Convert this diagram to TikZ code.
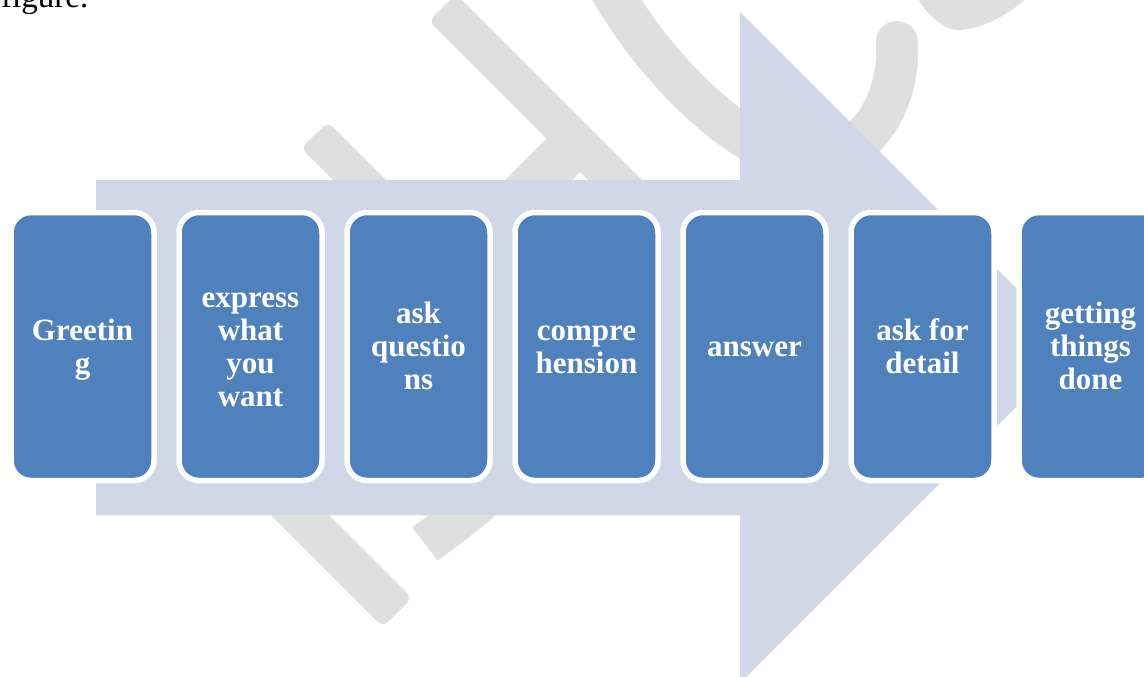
\documentclass[tikz,border=0pt]{standalone}
\usepackage{fontspec}
\setmainfont{Liberation Serif}
\usetikzlibrary{shapes}
\usetikzlibrary{arrows}
\usetikzlibrary{positioning}

\definecolor{boxblue}{HTML}{4F81BD}
\definecolor{arrowblue}{HTML}{D0D8E8}
\definecolor{markgray}{HTML}{DFDFDF}
\newcommand{\haut}{\rule{0pt}{27.6pt}}
\newcommand{\bas}{\rule[-6.7pt]{0pt}{6.7pt}}

\begin{document}
\begin{tikzpicture}[x=1pt,y=-1pt]
\tikzstyle{etape}=[
        rectangle,
        draw=white,
        line width=5.5pt,
        rounded corners=20pt,
        fill=boxblue,
        text=white,
        align=center,
        inner sep=0pt,
        minimum width=143pt,
        minimum height=268pt,
        font=\fontsize{31}{33}\selectfont\bfseries
]
\tikzstyle{trait}=[draw=markgray,line width=42pt]
\tikzstyle{tache}=[fill=markgray,rounded corners=7pt]
\useasboundingbox (0,0) rectangle (1144,677);
\clip (0,0) rectangle (1144,677);
%textedelapage
\node[anchor=base west,inner sep=0pt,font=\fontsize{33}{36}\selectfont] (figtext) at (1,8) {figure.};
%filigrane
\fill[tache] (301,148) -- (328,122) -- (528,322) -- (501,348) -- cycle;
\fill[tache] (383,627) -- (412,598) -- (212,398) -- (183,427) -- cycle;
\fill[tache] (429,21) -- (456,-6) -- (706,244) -- (679,271) -- cycle;
\fill[markgray] (562,123) -- (596,156) -- (476,276) -- (442,243) -- cycle;
\draw[trait,line cap=round] (605,-20) .. controls (660,80) and (760,170) .. (820,160)
        .. controls (870,150) and (900,100) .. (897,42);
\draw[trait] (540,420) .. controls (515,480) and (470,510) .. (425,544);
\fill[markgray] (915,-5) .. controls (928,15) and (943,31) .. (960,30)
        .. controls (985,28) and (1010,14) .. (1030,-5) -- cycle;
%grandeflèche
\fill[arrowblue] (96,180) -- (740,180) -- (740,12) -- (1075.5,347.5)
        -- (740,683) -- (740,515) -- (96,515) -- cycle;
%placementdesétapes
\node[etape] (greet) at (82.5,346.5) {\haut Greetin\\g\bas};
\node[etape] (express) at (250.5,346.5) {\haut express\\what\\you\\want\bas};
\node[etape] (askq) at (418.5,346.5) {\haut ask\\questio\\ns\bas};
\node[etape] (compr) at (586.5,346.5) {\haut compre\\hension\bas};
\node[etape] (answer) at (754.5,346.5) {\haut answer\bas};
\node[etape] (detail) at (922.5,346.5) {\haut ask for\\detail\bas};
\node[etape] (done) at (1090.5,346.5) {\haut getting\\things\\done\bas};
\end{tikzpicture}
\end{document}
